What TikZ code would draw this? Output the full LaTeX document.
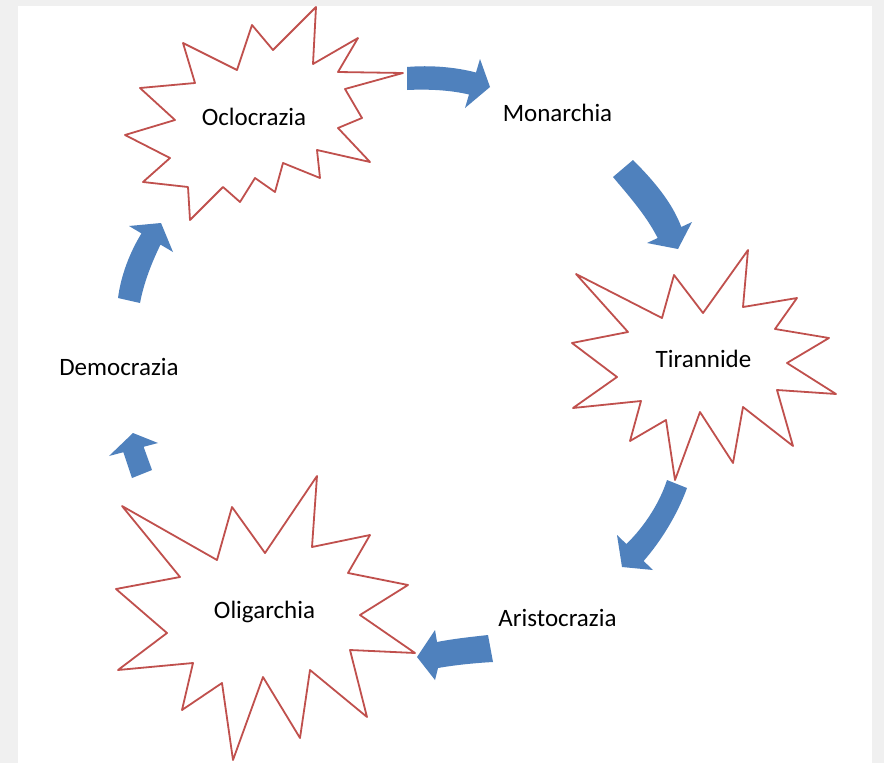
\documentclass[tikz,border=0pt]{standalone}
\usepackage{fontspec}
\setmainfont{Carlito}
\usetikzlibrary{calc}

\definecolor{cycleblue}{HTML}{4F81BD}
\definecolor{burstred}{HTML}{C0504D}
\definecolor{pagegray}{HTML}{F0F0F0}

\tikzset{
    burst/.style={draw=burstred, line width=1.8pt, line join=round, fill=white},
    turnarrow/.style={fill=cycleblue, draw=none},
    formlabel/.style={anchor=base, inner sep=0pt, font=\fontsize{25}{30}\selectfont}
}

\begin{document}
\begin{tikzpicture}[x=1pt, y=-1pt]
        \useasboundingbox (0,0) rectangle (884,763);
        \fill[pagegray] (0,0) rectangle (884,763);
        \fill[white] (18,6) rectangle (872,763);

        % bursts
        \draw[burst] plot coordinates {
            (316,7) (313,64) (358,38) (338,72) (403,73) (345,89) (362,118)
            (338,128) (370,162) (317,150) (320,178) (283,163) (275,192)
            (255,178) (240,202) (223,187) (190,220) (188,187) (143,182)
            (170,158) (125,135) (175,120) (140,88) (195,83) (183,43)
            (237,70) (252,25) (273,50)} -- cycle;
        \draw[burst] plot coordinates {
            (748,250) (743,307) (797,298) (775,329) (829,338) (787,363)
            (836,394) (777,390) (793,446) (743,407) (733,463) (700,412)
            (675,480) (666,420) (630,441) (641,401) (573,408) (617,377)
            (572,343) (628,332) (576,274) (662,318) (674,275) (703,313)} -- cycle;
        \draw[burst] plot coordinates {
            (317,476) (312,547) (370,535) (348,573) (408,585) (360,615)
            (415,653) (350,650) (367,717) (310,670) (300,738) (263,677)
            (233,760) (222,683) (182,710) (193,663) (118,670) (167,633)
            (116,589) (180,577) (122,506) (217,560) (232,507) (265,553)} -- cycle;

        % forms of government
        \node[formlabel] (nOcl) at (254,125) {Oclocrazia};
        \node[formlabel] (nMon) at (557.5,121.5) {Monarchia};
        \node[formlabel] (nTir) at (703.5,367.5) {Tirannide};
        \node[formlabel] (nAri) at (557.5,626.5) {Aristocrazia};
        \node[formlabel] (nOli) at (264.5,618) {Oligarchia};
        \node[formlabel] (nDem) at (119,375) {Democrazia};

        % curved arrows of the cycle
        \fill[turnarrow] (407,67) .. controls (430,65) and (455,67) .. (476,72.5)
            -- (480,59) -- (490,87) -- (465,108) -- (469,94.5)
            .. controls (450,90) and (428,89) .. (407,90) -- cycle;
        \fill[turnarrow] (613,177) .. controls (628,195) and (646,215) .. (657.7,238)
            -- (647,243) -- (678,249) -- (692,222) -- (681.3,227)
            .. controls (672,202) and (653,180) .. (633,160) -- cycle;
        \fill[turnarrow] (667,480) .. controls (660,502) and (645,526) .. (626.4,544)
            -- (617,535) -- (622,567) -- (653,570) -- (643.6,561)
            .. controls (662,540) and (678,513) .. (687,488) -- cycle;
        \fill[turnarrow] (488,635) .. controls (470,637) and (452,639) .. (437,642)
            -- (435,630) -- (417,657) -- (435,680) -- (438,668)
            .. controls (455,665) and (475,663) .. (493,662) -- cycle;
        \fill[turnarrow] (132,478) -- (123.4,452.2) -- (109,456) -- (133,433)
            -- (158,443) -- (143.6,446.8) -- (152,470) -- cycle;
        \fill[turnarrow] (118,298) .. controls (121,275) and (130,252) .. (141.5,233.4)
            -- (129,226) -- (161,223) -- (173,252) -- (160.5,244.6)
            .. controls (152,262) and (144,282) .. (140,303) -- cycle;
\end{tikzpicture}
\end{document}
